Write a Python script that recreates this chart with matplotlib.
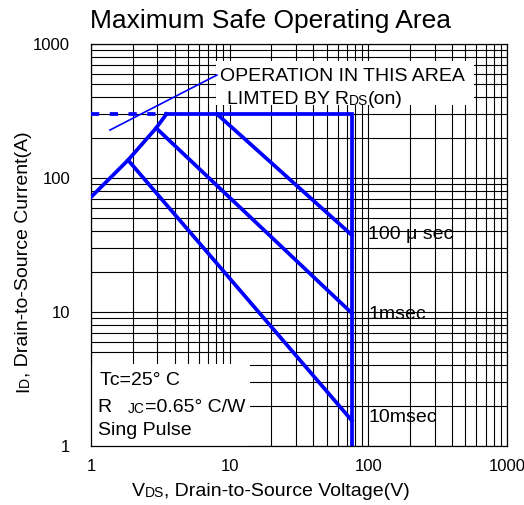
import matplotlib
matplotlib.use('Agg')
import matplotlib.pyplot as plt
from matplotlib.patches import Rectangle
from matplotlib.ticker import NullFormatter

plt.rcParams['font.family'] = ['Liberation Sans', 'DejaVu Sans']

# 数据 (读自参考图)
TICKS = [1, 10, 100, 1000]
TICK_LABELS = ['1', '10', '100', '1000']

# RDS(on) 限制线 (虚线部分 + 斜线)
LIMIT_DASH_V = [1.0, 3.5]
LIMIT_DASH_I = [300, 300]
RDS_V = [1.0, 1.85, 2.95, 3.5]
RDS_I = [72, 136, 236, 300]

# 电流上限 + 电压上限
DC_V = [3.5, 76, 76]
DC_I = [300, 300, 1]

# 脉冲线
P100US_V = [8.1, 76]
P100US_I = [300, 37.5]
P1MS_V = [2.95, 76]
P1MS_I = [236, 9.8]
P10MS_V = [1.85, 76]
P10MS_I = [136, 1.55]

# 指示线
POINTER_V = [1.37, 8.1]
POINTER_I = [228, 587]

BLUE = '#0000ff'

fig = plt.figure(figsize=(5.24, 5.05), dpi=100)
ax = fig.add_axes([0.1737, 0.1168, 0.7939, 0.7961])
ax.set_xscale('log')
ax.set_yscale('log')
ax.set_xlim(1, 1000)
ax.set_ylim(1, 1000)

ax.grid(True, which='both', color='black', lw=0.8)
ax.set_axisbelow(True)
ax.tick_params(which='both', length=0, labelsize=12)
ax.tick_params(axis='x', pad=9)
ax.tick_params(axis='y', pad=15)
ax.set_xticks(TICKS)
ax.set_xticklabels(TICK_LABELS)
ax.set_yticks(TICKS)
ax.set_yticklabels(TICK_LABELS)
ax.xaxis.set_minor_formatter(NullFormatter())
ax.yaxis.set_minor_formatter(NullFormatter())
for sp in ax.spines.values():
    sp.set_linewidth(0.9)

# 白色文字框
ax.add_patch(Rectangle((0.0, 0.0), 0.382, 0.205, transform=ax.transAxes,
                       facecolor='white', edgecolor='none', zorder=2))
ax.add_patch(Rectangle((0.30, 0.847), 0.62, 0.11, transform=ax.transAxes,
                       facecolor='white', edgecolor='none', zorder=2))

lw = 2.7
ax.plot(LIMIT_DASH_V, LIMIT_DASH_I, color=BLUE, lw=lw, ls=(0, (2.2, 2.8)), zorder=3)
ax.plot(RDS_V, RDS_I, color=BLUE, lw=lw, zorder=3)
ax.plot(DC_V, DC_I, color=BLUE, lw=lw, zorder=3, solid_joinstyle='miter')
ax.plot(P100US_V, P100US_I, color=BLUE, lw=lw, zorder=3)
ax.plot(P1MS_V, P1MS_I, color=BLUE, lw=lw, zorder=3)
ax.plot(P10MS_V, P10MS_I, color=BLUE, lw=lw, zorder=3)
ax.plot(POINTER_V, POINTER_I, color=BLUE, lw=1.2, zorder=3)


def chain(first, pieces, rotation=0):
    """把不同字号的文字拼接在一起"""
    t = first
    for s, size in pieces:
        if rotation:
            t = ax.annotate(s, xy=(1, 1), xycoords=t, ha='right', va='bottom',
                            rotation=90, fontsize=size, zorder=4)
        else:
            t = ax.annotate(s, xy=(1, 0), xycoords=t, ha='left', va='bottom',
                            fontsize=size, zorder=4)
    return t


# 曲线标签
ax.text(100, 37.6, '100 μ sec', fontsize=14, va='center', zorder=4)
ax.text(100, 9.5, '1msec', fontsize=14, va='center', zorder=4)
ax.text(100, 1.62, '10msec', fontsize=14, va='center', zorder=4)

# 注释
ax.text(8.5, 532, 'OPERATION IN THIS AREA', fontsize=14, va='baseline', zorder=4)
t = ax.text(9.5, 357, 'LIMTED BY R', fontsize=14, va='baseline', zorder=4)
chain(t, [('DS', 10), ('(on)', 14)])

# 条件说明
ax.text(1.16, 2.85, 'Tc=25° C', fontsize=14, va='baseline', zorder=4)
t = ax.text(1.12, 1.79, 'R   ', fontsize=14, va='baseline', zorder=4)
chain(t, [('JC', 10), ('=0.65° C/W', 14)])
ax.text(1.12, 1.21, 'Sing Pulse', fontsize=14, va='baseline', zorder=4)

# 标题
fig.text(90 / 524, 1 - 28 / 505, 'Maximum Safe Operating Area', fontsize=19, va='baseline')

# 坐标轴标题
t = fig.text(132 / 524, 1 - 496 / 505, 'V', fontsize=14, va='baseline')
chain(t, [('DS', 10), (', Drain-to-Source Voltage(V)', 14)])
t = fig.text(28.3 / 524, 1 - 392 / 505, 'I', fontsize=14, rotation=90,
             rotation_mode='anchor', ha='left', va='baseline')
chain(t, [('D', 10), (', Drain-to-Source Current(A)', 14)], rotation=90)

fig.savefig('out.png', dpi=100)
